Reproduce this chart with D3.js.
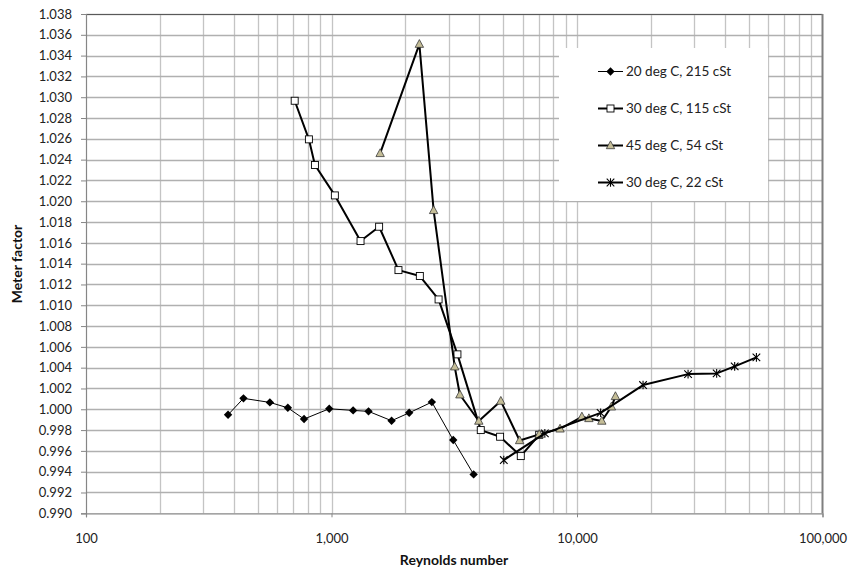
<!DOCTYPE html>
<html>
<head>
<meta charset="utf-8">
<script src="https://cdn.jsdelivr.net/npm/d3@7"></script>
<style>
  html, body { margin: 0; padding: 0; background: #fff; }
  svg { display: block; font-family: Lato, "Open Sans", sans-serif; }
</style>
</head>
<body>
<svg id="chart" width="850" height="578"></svg>
<script>
// Meter factor against Reynolds number for four oil conditions
const re215 = [379, 438, 561, 664, 773, 979, 1225, 1415, 1757, 2072, 2563, 3133, 3793];
const mf215 = [0.99947, 1.00105, 1.00066, 1.00014, 0.99906, 1.00005, 0.99989, 0.99980, 0.99890, 0.99966, 1.00069, 0.99704, 0.99374];

const re115 = [708, 809, 856, 1032, 1313, 1563, 1874, 2290, 2730, 3258, 4055, 4861, 5902, 7015];
const mf115 = [1.02966, 1.02595, 1.02348, 1.02056, 1.01617, 1.01755, 1.01338, 1.01281, 1.01056, 1.00528, 0.99800, 0.99736, 0.99550, 0.99755];

const re54 = [1578, 2280, 2606, 3176, 3334, 3982, 4894, 5839, 7015, 8530, 10470, 11180, 12620, 13810, 14340];
const mf54 = [1.02460, 1.03510, 1.01912, 1.00409, 1.00140, 0.99887, 1.00079, 0.99700, 0.99759, 0.99812, 0.99928, 0.99912, 0.99887, 1.00024, 1.00124];

const re22 = [5033, 7396, 12480, 18580, 28340, 37060, 43880, 53800];
const mf22 = [0.99512, 0.99768, 0.99966, 1.00233, 1.00338, 1.00345, 1.00412, 1.00499];

const seriesNames = ["20 deg C, 215 cSt", "30 deg C, 115 cSt", "45 deg C, 54 cSt", "30 deg C, 22 cSt"];
const xTickValues = [100, 1000, 10000, 100000];
const yTickValues = d3.range(0, 25).map(i => +(0.990 + i * 0.002).toFixed(3));

const svg = d3.select("#chart");
const x = d3.scaleLog().domain([100, 100000]).range([86, 822.5]);
const y = d3.scaleLinear().domain([0.990, 1.038]).range([513.3, 14]);

// gridlines
const minorX = [];
for (let d = 100; d < 100000; d *= 10) for (let k = 1; k <= 9; k++) minorX.push(d * k);

const grid = svg.append("g");
grid.selectAll("line.gx").data(minorX.filter(v => v > 100 && v < 100000)).join("line")
  .attr("x1", d => Math.round(x(d)) + 0.5).attr("x2", d => Math.round(x(d)) + 0.5)
  .attr("y1", y(1.038)).attr("y2", y(0.990))
  .attr("stroke", "#c4c4c4").attr("stroke-width", 1.3);
grid.selectAll("line.gy").data(yTickValues.filter(v => v > 0.9901)).join("line")
  .attr("x1", x(100)).attr("x2", x(100000))
  .attr("y1", d => Math.round(y(d)) + 0.5).attr("y2", d => Math.round(y(d)) + 0.5)
  .attr("stroke", "#b0b0b0").attr("stroke-width", 1.3);

// frame: top and right borders
svg.append("line").attr("x1", x(100)).attr("x2", x(100000)).attr("y1", 14.5).attr("y2", 14.5)
  .attr("stroke", "#595959").attr("stroke-width", 1.2);
svg.append("line").attr("x1", 822.5).attr("x2", 822.5).attr("y1", 14).attr("y2", 513.3)
  .attr("stroke", "#7f7f7f").attr("stroke-width", 2);

// axes
const yAxis = d3.axisLeft(y).tickValues(yTickValues).tickFormat(d3.format(".3f")).tickSize(5).tickPadding(9);
const gy = svg.append("g").attr("transform", "translate(86,0)").call(yAxis);
const xAxis = d3.axisBottom(x).tickValues(xTickValues).tickFormat(d3.format(",")).tickSize(4).tickPadding(16);
const gx = svg.append("g").attr("transform", "translate(0,513.3)").call(xAxis);
[gx, gy].forEach(g => {
  g.select(".domain").attr("stroke", "#868686").attr("stroke-width", 1.2);
  g.selectAll(".tick line").attr("stroke", "#868686");
  g.selectAll(".tick text").attr("fill", "#222").style("font-size", "13px").style("font-family", "Lato, sans-serif");
});

// axis titles
svg.append("text").attr("x", 454).attr("y", 565).attr("text-anchor", "middle")
  .style("font-size", "14px").style("font-weight", "bold").attr("fill", "#111").text("Reynolds number");
svg.append("text").attr("transform", "translate(22,264) rotate(-90)").attr("text-anchor", "middle")
  .style("font-size", "14px").style("font-weight", "bold").attr("fill", "#111").text("Meter factor");

// marker drawing helpers
function drawMarker(g, type, cx, cy) {
  if (type === "diamond") {
    g.append("path").attr("d", `M${cx},${cy - 4.2}L${cx + 4.2},${cy}L${cx},${cy + 4.2}L${cx - 4.2},${cy}Z`)
      .attr("fill", "#000");
  } else if (type === "square") {
    g.append("rect").attr("x", cx - 3.5).attr("y", cy - 3.5).attr("width", 7).attr("height", 7)
      .attr("fill", "#fff").attr("stroke", "#000").attr("stroke-width", 0.9);
  } else if (type === "triangle") {
    g.append("path").attr("d", `M${cx},${cy - 4.6}L${cx + 4.2},${cy + 3.2}L${cx - 4.2},${cy + 3.2}Z`)
      .attr("fill", "#c4bd97").attr("stroke", "#3a3a3a").attr("stroke-width", 0.8);
  } else if (type === "star") {
    const r = 3.8;
    g.append("path")
      .attr("d", `M${cx - r},${cy - r}L${cx + r},${cy + r}M${cx - r},${cy + r}L${cx + r},${cy - r}M${cx},${cy - r - 0.5}L${cx},${cy + r + 0.5}`)
      .attr("stroke", "#000").attr("stroke-width", 1.1).attr("fill", "none");
  }
}

const series = [
  { xs: re215, ys: mf215, marker: "diamond", width: 1 },
  { xs: re115, ys: mf115, marker: "square", width: 2 },
  { xs: re54, ys: mf54, marker: "triangle", width: 2 },
  { xs: re22, ys: mf22, marker: "star", width: 2 }
];

const line = d3.line().x(d => x(d[0])).y(d => y(d[1]));
series.forEach(s => {
  const pts = s.xs.map((v, i) => [v, s.ys[i]]);
  const g = svg.append("g");
  g.append("path").attr("d", line(pts)).attr("fill", "none").attr("stroke", "#000")
    .attr("stroke-width", s.width).attr("stroke-linejoin", "round");
  pts.forEach(p => drawMarker(g, s.marker, x(p[0]), y(p[1])));
});

// legend
const lg = svg.append("g");
lg.append("rect").attr("x", 559).attr("y", 48).attr("width", 209).attr("height", 153).attr("fill", "#fff");
series.forEach((s, i) => {
  const cy = 71.5 + i * 37;
  lg.append("line").attr("x1", 598).attr("x2", 623).attr("y1", cy).attr("y2", cy)
    .attr("stroke", "#000").attr("stroke-width", s.width);
  drawMarker(lg, s.marker, 610.5, cy);
  lg.append("text").attr("x", 626).attr("y", cy).attr("dy", "0.35em")
    .style("font-size", "13.5px").attr("fill", "#222").text(seriesNames[i]);
});
</script>
</body>
</html>
